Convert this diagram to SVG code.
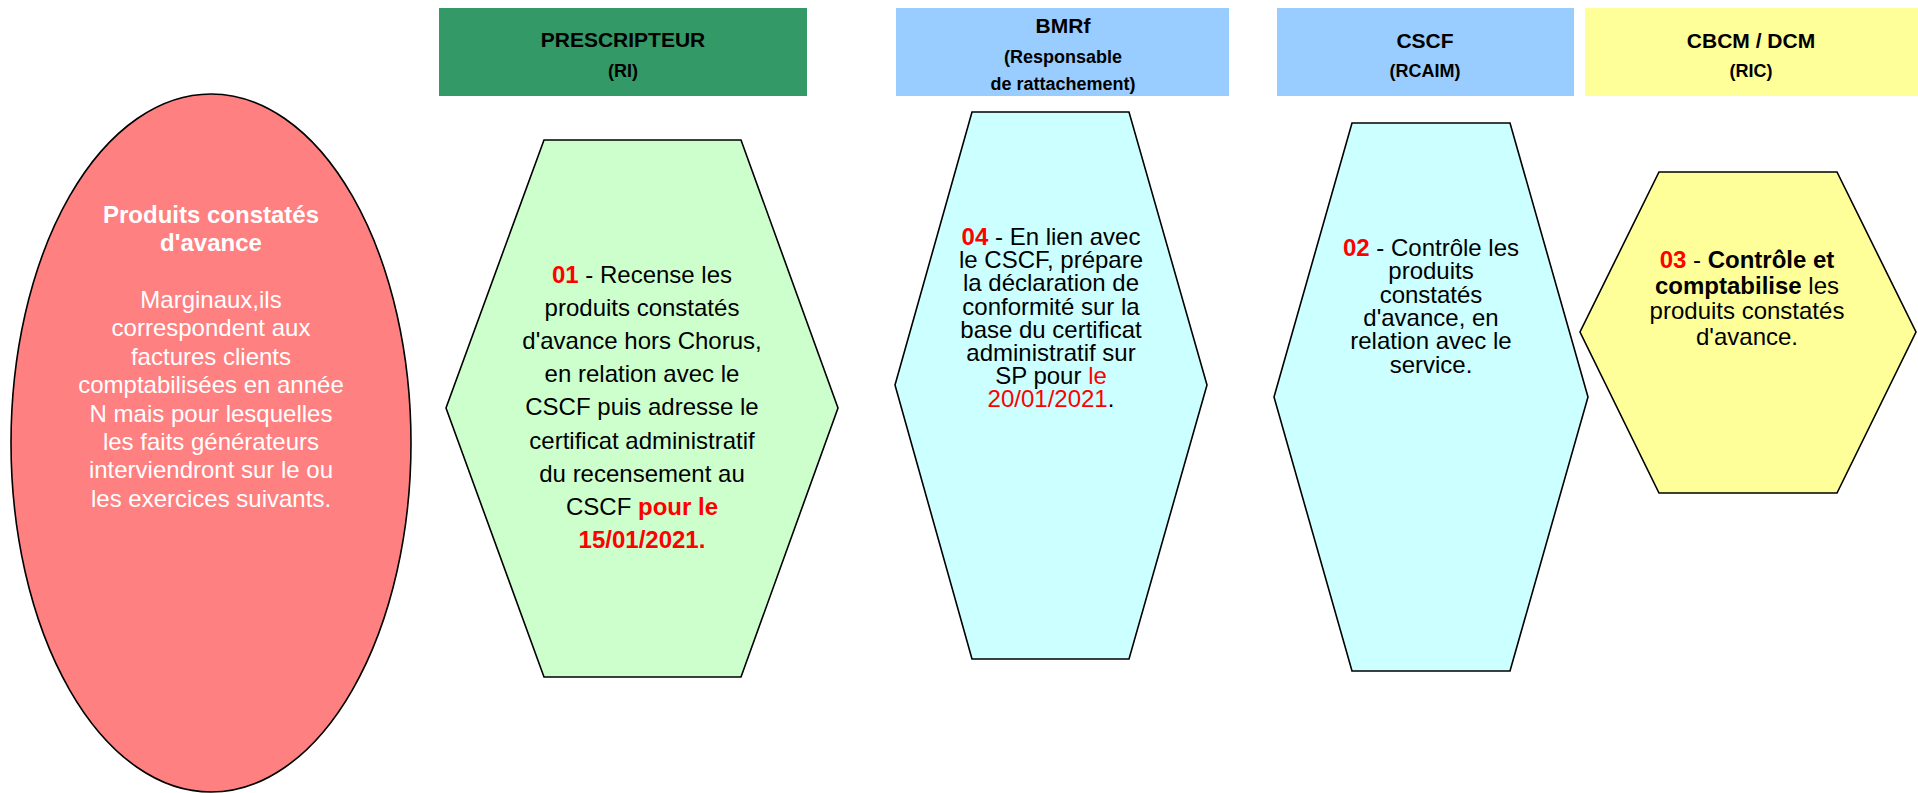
<svg xmlns="http://www.w3.org/2000/svg" width="1918" height="793" viewBox="0 0 1918 793">
  <style>
    text { font-family: "Liberation Sans", Arial, sans-serif; text-anchor: middle; }
    .hd { font-size: 21px; font-weight: bold; fill: #000; }
    .sub { font-size: 18px; font-weight: bold; fill: #000; }
    .body { font-size: 24px; fill: #000; }
    .white { fill: #fff; }
    .b { font-weight: bold; }
    .red { fill: #ff0000; }
    .shape { stroke: #000; stroke-width: 1.6; stroke-linejoin: miter; }
  </style>

  <!-- Column headers -->
  <g id="header-prescripteur">
    <rect x="439" y="8" width="368" height="88" fill="#339966"/>
    <text x="623" y="47"><tspan class="hd">PRESCRIPTEUR</tspan><tspan class="sub" x="623" dy="30">(RI)</tspan></text>
  </g>
  <g id="header-bmrf">
    <rect x="896" y="8" width="333" height="88" fill="#99ccff"/>
    <text x="1063" y="33"><tspan class="hd">BMRf</tspan><tspan class="sub" x="1063" dy="30">(Responsable</tspan><tspan class="sub" x="1063" dy="27">de rattachement)</tspan></text>
  </g>
  <g id="header-cscf">
    <rect x="1277" y="8" width="297" height="88" fill="#99ccff"/>
    <text x="1425" y="48"><tspan class="hd">CSCF</tspan><tspan class="sub" x="1425" dy="29">(RCAIM)</tspan></text>
  </g>
  <g id="header-cbcm">
    <rect x="1585" y="8" width="333" height="88" fill="#ffff99"/>
    <text x="1751" y="48"><tspan class="hd">CBCM / DCM</tspan><tspan class="sub" x="1751" dy="29">(RIC)</tspan></text>
  </g>

  <!-- Subject ellipse -->
  <g id="node-produits">
    <ellipse class="shape" cx="211" cy="443" rx="200" ry="349" fill="#ff8080"/>
    <text class="body white" x="211" y="223"><tspan class="b">Produits constatés</tspan><tspan class="b" x="211" dy="28">d'avance</tspan><tspan x="211" dy="57">Marginaux,ils</tspan><tspan x="211" dy="28.4">correspondent aux</tspan><tspan x="211" dy="28.4">factures clients</tspan><tspan x="211" dy="28.4">comptabilisées en année</tspan><tspan x="211" dy="28.4">N mais pour lesquelles</tspan><tspan x="211" dy="28.4">les faits générateurs</tspan><tspan x="211" dy="28.4">interviendront sur le ou</tspan><tspan x="211" dy="28.4">les exercices suivants.</tspan></text>
  </g>

  <!-- Step 01 : prescripteur -->
  <g id="node-step01">
    <polygon class="shape" points="544,140 741,140 838,408 741,677 544,677 446,408" fill="#ccffcc"/>
    <text class="body" x="642" y="283"><tspan class="red b">01</tspan> - Recense les<tspan x="642" dy="33.1">produits constatés</tspan><tspan x="642" dy="33.1">d'avance hors Chorus,</tspan><tspan x="642" dy="33.1">en relation avec le</tspan><tspan x="642" dy="33.1">CSCF puis adresse le</tspan><tspan x="642" dy="33.1">certificat administratif</tspan><tspan x="642" dy="33.1">du recensement au</tspan><tspan x="642" dy="33.1">CSCF <tspan class="red b">pour le</tspan></tspan><tspan class="red b" x="642" dy="33.1">15/01/2021.</tspan></text>
  </g>

  <!-- Step 04 : BMRf -->
  <g id="node-step04">
    <polygon class="shape" points="972,112 1129,112 1207,385 1129,659 972,659 895,385" fill="#ccffff"/>
    <text class="body" x="1051" y="245"><tspan class="red b">04</tspan> - En lien avec<tspan x="1051" dy="23.2">le CSCF, prépare</tspan><tspan x="1051" dy="23.2">la déclaration de</tspan><tspan x="1051" dy="23.2">conformité sur la</tspan><tspan x="1051" dy="23.2">base du certificat</tspan><tspan x="1051" dy="23.2">administratif sur</tspan><tspan x="1051" dy="23.2">SP pour <tspan class="red">le</tspan></tspan><tspan x="1051" dy="23.2"><tspan class="red">20/01/2021</tspan>.</tspan></text>
  </g>

  <!-- Step 02 : CSCF -->
  <g id="node-step02">
    <polygon class="shape" points="1352,123 1510,123 1588,397 1510,671 1352,671 1274,397" fill="#ccffff"/>
    <text class="body" x="1431" y="256"><tspan class="red b">02</tspan> - Contrôle les<tspan x="1431" dy="23.3">produits</tspan><tspan x="1431" dy="23.3">constatés</tspan><tspan x="1431" dy="23.3">d'avance, en</tspan><tspan x="1431" dy="23.3">relation avec le</tspan><tspan x="1431" dy="23.3">service.</tspan></text>
  </g>

  <!-- Step 03 : CBCM / DCM -->
  <g id="node-step03">
    <polygon class="shape" points="1659,172 1837,172 1916,332 1837,493 1659,493 1580,332" fill="#ffff99"/>
    <text class="body" x="1747" y="268"><tspan class="red b">03</tspan> - <tspan class="b">Contrôle et</tspan><tspan x="1747" dy="25.6"><tspan class="b">comptabilise</tspan> les</tspan><tspan x="1747" dy="25.6">produits constatés</tspan><tspan x="1747" dy="25.6">d'avance.</tspan></text>
  </g>

  <!-- No connectors are drawn between the nodes -->
  <g id="connectors"/>
</svg>
